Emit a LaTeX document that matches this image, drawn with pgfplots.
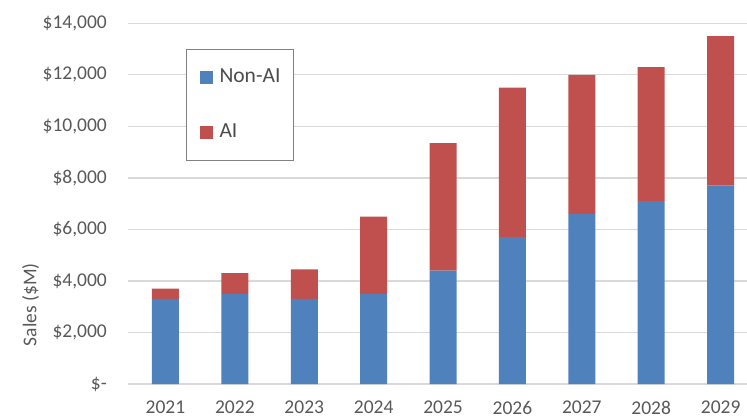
\documentclass[border=0pt]{standalone}
\usepackage{pgfplots}
\pgfplotsset{compat=1.18}
\usepackage{fontspec}
\setmainfont{Carlito}
\definecolor{nonai}{HTML}{4F81BD}
\definecolor{ai}{HTML}{C0504D}
\definecolor{txt}{HTML}{595959}
\definecolor{grd}{HTML}{D9D9D9}
\begin{document}
\begin{tikzpicture}
\begin{axis}[
  name=ax,
  scale only axis,
  width=619pt, height=360.7pt,
  ybar stacked, bar width=27pt,
  xmin=-0.54, xmax=8.38,
  ymin=0, ymax=14000,
  xtick={0,...,8},
  xticklabels={2021,2022,2023,2024,2025,2026,2027,2028,2029},
  scaled y ticks=false,
  ytick={0,2000,...,14000},
  yticklabels={{\$-},{\$2,000},{\$4,000},{\$6,000},{\$8,000},{\$10,000},{\$12,000},{\$14,000}},
  major tick length=0pt,
  axis line style={draw=none},
  ymajorgrids, grid style={grd, line width=1.3pt},
  tick label style={font=\fontsize{19.5}{22}\selectfont, text=txt},
  yticklabel style={inner sep=0pt, xshift=-21pt},
  xticklabel style={inner sep=0pt, yshift=-17pt},
  ylabel={Sales (\$M)},
  ylabel style={font=\fontsize{19.5}{22}\selectfont, text=txt, at={(ticklabel cs:0.5)}, xshift=-101pt},
  legend cell align=left,
  legend image code/.code={\fill[#1] (0pt,-6.5pt) rectangle (13pt,6.5pt);},
  legend style={
    at={(58pt,334.7pt)}, anchor=north west,
    draw=gray, line width=1pt,
    inner xsep=13pt, inner ysep=18pt,
    row sep=34.6pt,
    font=\fontsize{21.5}{25}\selectfont,
    nodes={inner sep=0pt, text height=15pt, text depth=5pt, text=black!70},
    /tikz/every odd column/.append style={column sep=7pt},
  },
]
\addplot+[fill=nonai, draw=none] coordinates {
  (0,3300) (1,3500) (2,3300) (3,3500) (4,4400) (5,5700) (6,6600) (7,7100) (8,7700)};
\addplot+[fill=ai, draw=none] coordinates {
  (0,400) (1,800) (2,1150) (3,3000) (4,4950) (5,5800) (6,5400) (7,5200) (8,5800)};
\legend{Non-AI, AI}
\end{axis}
\pgfresetboundingbox
\path[use as bounding box] ([xshift=-128pt,yshift=-35pt]ax.south west) rectangle ([yshift=23.3pt]ax.north east);
\end{tikzpicture}
\end{document}
